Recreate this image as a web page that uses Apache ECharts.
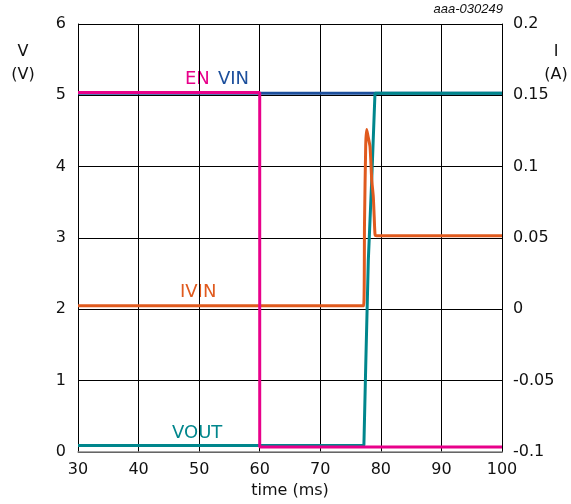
<!DOCTYPE html>
<html lang="en">
<head>
    <meta charset="UTF-8">
    <title>EN / VIN / VOUT / IVIN</title>
    <script src="https://cdn.jsdelivr.net/npm/echarts@6/dist/echarts.min.js"></script>
    <style>
        html, body { margin: 0; padding: 0; background: #fff; }
        #main { width: 571px; height: 504px; }
    </style>
</head>
<body>
<div id="main"></div>
<script>
    // time (ms) / value pairs
    var enTime = [30, 60, 60, 100];
    var enVolt = [5.04, 5.04, 0.07, 0.07];

    var vinTime = [30, 100];
    var vinVolt = [5.03, 5.03];

    var voutTime = [30, 77.2, 77.5, 77.93, 78.49, 79.03, 100];
    var voutVolt = [0.09, 0.09, 1.2, 2.69, 3.81, 5.03, 5.03];

    var ivinTime = [30, 77.15, 77.3, 77.5, 77.66, 77.85, 78.21, 78.49, 78.75, 78.9, 79.05, 79.3, 100];
    var ivinAmp = [0.0025, 0.0025, 0.06, 0.115, 0.126, 0.122, 0.114, 0.091, 0.079, 0.065, 0.052, 0.0515, 0.0515];

    function pairs(t, v) {
        var out = [];
        for (var i = 0; i < t.length; i++) out.push([t[i], v[i]]);
        return out;
    }

    var mychart = echarts.init(document.getElementById('main'));
    var font = '"DejaVu Sans", sans-serif';

    var option = {
        animation: false,
        backgroundColor: '#fff',
        textStyle: { fontFamily: font },
        grid: { left: 78, right: 69, top: 24, bottom: 52 },
        xAxis: {
            type: 'value', min: 30, max: 100, interval: 10,
            axisLine: { lineStyle: { color: '#888', width: 1.5 } },
            axisTick: { show: false },
            axisLabel: { color: '#111', fontSize: 16, margin: 10 },
            splitLine: { lineStyle: { color: '#000', width: 1 } },
            name: 'time (ms)', nameLocation: 'middle', nameGap: 30,
            nameTextStyle: { color: '#111', fontSize: 16 }
        },
        yAxis: [{
            type: 'value', min: 0, max: 6, interval: 1,
            axisLine: { show: true, lineStyle: { color: '#000', width: 1 } },
            axisTick: { show: false },
            axisLabel: { color: '#111', fontSize: 16, margin: 12 },
            splitLine: { lineStyle: { color: '#000', width: 1 } }
        }, {
            type: 'value', min: -0.1, max: 0.2, interval: 0.05,
            axisLine: { show: true, lineStyle: { color: '#000', width: 1 } },
            axisTick: { show: false },
            axisLabel: { color: '#111', fontSize: 16, margin: 11,
                formatter: function (v) { return String(Math.round(v * 100) / 100); } },
            splitLine: { show: false }
        }],
        graphic: [
            { type: 'text', right: 68, top: 3, style: { text: 'aaa-030249', font: 'italic 13px "Liberation Sans", Arial, sans-serif', fill: '#111' } },
            { type: 'text', x: 23, y: 40, style: { text: 'V\n(V)', font: '16px ' + font, fill: '#111', align: 'center', lineHeight: 23 } },
            { type: 'text', x: 556, y: 40, style: { text: 'I\n(A)', font: '16px ' + font, fill: '#111', align: 'center', lineHeight: 23 } },
            { type: 'text', x: 185, y: 70, style: { text: 'EN', font: '18px ' + font, fill: '#e8008a' } },
            { type: 'text', x: 218, y: 70, style: { text: 'VIN', font: '18px ' + font, fill: '#1c4f9c' } },
            { type: 'text', x: 180, y: 283, style: { text: 'IVIN', font: '18px ' + font, fill: '#e05a1e' } },
            { type: 'text', x: 172, y: 424, style: { text: 'VOUT', font: '18px ' + font, fill: '#00868c' } }
        ],
        series: [
            { name: 'VIN', type: 'line', data: pairs(vinTime, vinVolt), showSymbol: false,
              lineStyle: { color: '#1c4f9c', width: 3 }, z: 2 },
            { name: 'VOUT', type: 'line', data: pairs(voutTime, voutVolt), showSymbol: false,
              lineStyle: { color: '#00868c', width: 3 }, z: 3 },
            { name: 'IVIN', type: 'line', yAxisIndex: 1, data: pairs(ivinTime, ivinAmp), showSymbol: false,
              smooth: 0.2, lineStyle: { color: '#e05a1e', width: 3 }, z: 4 },
            { name: 'EN', type: 'line', data: pairs(enTime, enVolt), showSymbol: false,
              lineStyle: { color: '#e8008a', width: 3 }, z: 5 }
        ]
    };
    mychart.setOption(option);
</script>
</body>
</html>
